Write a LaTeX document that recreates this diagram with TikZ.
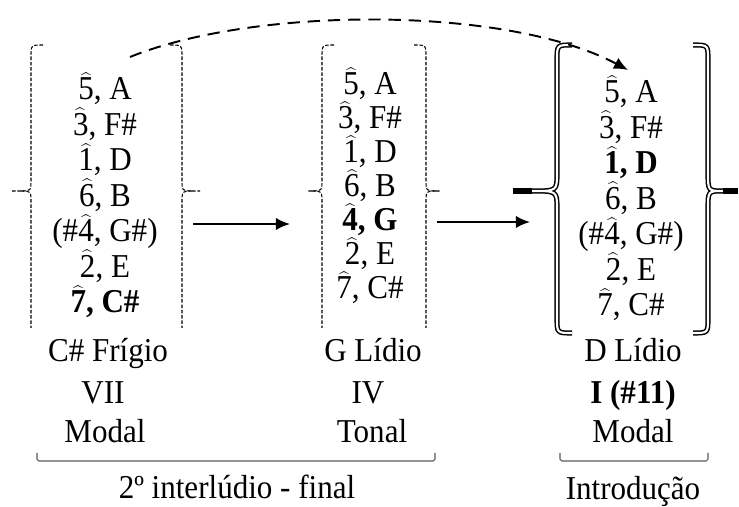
\documentclass[tikz,border=0pt]{standalone}
\usepackage{fontspec}
\setmainfont{Liberation Serif}[FakeStretch=0.93]
\usetikzlibrary{arrows.meta}
\newcommand{\grau}[1]{$\widehat{\mbox{#1}}$}

\begin{document}
\begin{tikzpicture}
[texto/.style={anchor=base,inner sep=0pt,font=\fontsize{19}{22}\selectfont},
  chave/.style={line width=0.6pt,dash pattern=on 2pt off 1pt},
  chaveDupla/.style={double,line width=0.85pt,double distance=1.2pt,line join=round},
  seta/.style={line width=1.1pt,-{Latex[length=8pt,width=7pt]}},
  arco/.style={seta,dash pattern=on 7pt off 4.5pt},
  colchete/.style={black!65,line width=0.6pt,rounded corners=1pt}]
\useasboundingbox (0,0) rectangle (14.78,10.14);
%% scale degrees of the three modes
\foreach \i/\txt in {0/{\grau{5}, A}, 1/{\grau{3}, F\#}, 2/{\grau{1}, D},
  3/{\grau{6}, B}, 4/{(\#\grau{4}, G\#)}, 5/{\grau{2}, E}, 6/{\textbf{\grau{7}, C\#}}}
{
  \node[texto] (a\i) at (2.10,{8.14-0.71*\i}) {\txt};
}
\foreach \i/\txt in {0/{\grau{5}, A}, 1/{\grau{3}, F\#}, 2/{\grau{1}, D},
  3/{\grau{6}, B}, 4/{\textbf{\grau{4}, G}}, 5/{\grau{2}, E}, 6/{\grau{7}, C\#}}
{
  \node[texto] (b\i) at (7.40,{8.24-0.68*\i}) {\txt};
}
\foreach \i/\txt in {0/{\grau{5}, A}, 1/{\grau{3}, F\#}, 2/{\textbf{\grau{1}, D}},
  3/{\grau{6}, B}, 4/{(\#\grau{4}, G\#)}, 5/{\grau{2}, E}, 6/{\grau{7}, C\#}}
{
  \node[texto] (c\i) at (12.62,{8.08-0.71*\i}) {\txt};
}
%% dashed braces, cut at the bottom
\foreach \x/\d/\s in {0.62/1/0.38, 3.64/-1/0.36, 6.44/1/0.28, 8.52/-1/0.28}
{
  \draw[chave] ({\x+\d*0.24},9.24) .. controls (\x,9.24) .. (\x,9.00) -- (\x,6.56)
    .. controls (\x,6.32) .. ({\x-\d*0.2},6.32) -- ({\x-\d*\s},6.32);
  \draw[chave] ({\x-\d*0.2},6.32) .. controls (\x,6.32) .. (\x,6.08) -- (\x,3.58);
}
%% double braces round D Lidio
\foreach \x/\d/\c/\s in {11.14/1/0.50/0.88, 14.16/-1/0.30/0.60}
{
  \draw[chaveDupla] ({\x+\d*0.30},9.24) .. controls (\x,9.24) .. (\x,8.94) -- (\x,6.68)
    .. controls (\x,6.32) .. ({\x-\d*\c},6.32) .. controls (\x,6.32) .. (\x,5.96)
    -- (\x,3.78) .. controls (\x,3.48) .. ({\x+\d*0.30},3.48);
  \draw[line width=2.9pt] ({\x-\d*\c},6.32) -- ({\x-\d*\s},6.32);
}
%% labels under each mode
\node[texto] (modo1) at (2.16,2.90) {C\# Frígio};
\node[texto] (funcao1) at (2.06,2.06) {VII};
\node[texto] (tipo1) at (2.10,1.28) {Modal};
\node[texto] (modo2) at (7.46,2.90) {G Lídio};
\node[texto] (funcao2) at (7.36,2.06) {IV};
\node[texto] (tipo2) at (7.44,1.28) {Tonal};
\node[texto] (modo3) at (12.66,2.90) {D Lídio};
\node[texto] (funcao3) at (12.66,2.06) {\textbf{I (\#11)}};
\node[texto] (tipo3) at (12.66,1.28) {Modal};
%% sections
\draw[colchete] (0.74,1.08) -- (0.74,0.92) -- (8.70,0.92) -- (8.70,1.08);
\draw[colchete] (11.20,1.08) -- (11.20,0.92) -- (14.16,0.92) -- (14.16,1.08);
\node[texto] (secao1) at (4.74,0.16) {2º interlúdio - final};
\node[texto] (secao2) at (12.66,0.14) {Introdução};
%% arrows
\coordinate (s1) at (3.86,5.66);
\coordinate (e1) at (5.80,5.66);
\coordinate (s2) at (8.74,5.70);
\coordinate (e2) at (10.60,5.70);
\coordinate (p1) at (2.60,9.00);
\coordinate (p2) at (12.56,8.74);
\draw[seta] (s1) -- (e1);
\draw[seta] (s2) -- (e2);
\draw[arco] (p1) to[out=22,in=152,looseness=0.7] (p2);
\end{tikzpicture}
\end{document}
